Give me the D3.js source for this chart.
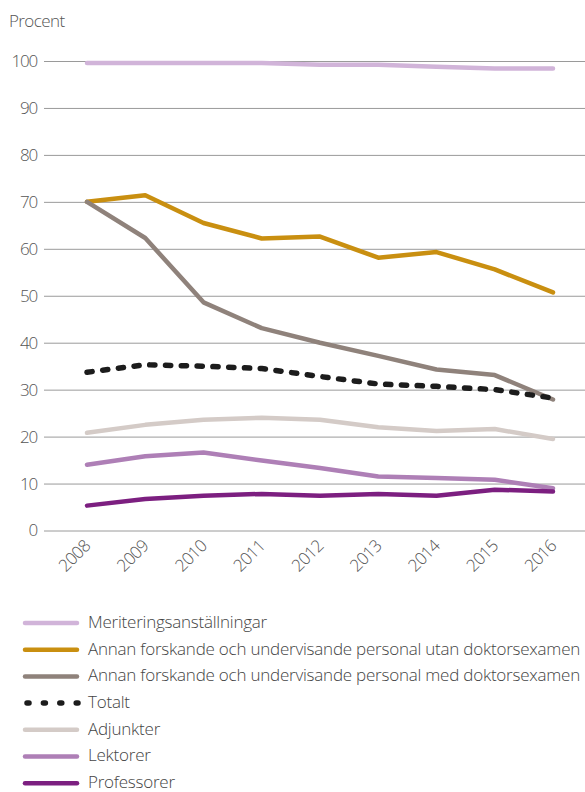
<!DOCTYPE html>
<html><head><meta charset="utf-8">
<script src="https://cdn.jsdelivr.net/npm/d3@7"></script>
<style>
html,body{margin:0;padding:0;background:#fff;}
svg{display:block;font-family:"Open Sans",Lato,sans-serif;}
</style></head>
<body><svg id="c" width="585" height="792"></svg>
<script>
const years = ["2008","2009","2010","2011","2012","2013","2014","2015","2016"];
const yTicks = [0,10,20,30,40,50,60,70,80,90,100];
const seriesNames = ["Meriteringsanställningar","Annan forskande och undervisande personal utan doktorsexamen","Annan forskande och undervisande personal med doktorsexamen","Totalt","Adjunkter","Lektorer","Professorer"];
const seriesColors = ["#d1b4d9","#c98f10","#8f827b","#1c1c1c","#d4cbc7","#ae7fb6","#7c1f80"];
const meritering = [99.6,99.6,99.6,99.6,99.2,99.2,98.8,98.4,98.4];
const utanDr = [70.0,71.4,65.5,62.2,62.6,58.1,59.3,55.6,50.7];
const medDr = [70.0,62.3,48.6,43.1,40.0,37.2,34.3,33.1,27.9];
const totalt = [33.7,35.3,35.0,34.5,32.8,31.2,30.7,30.0,28.2];
const adjunkter = [20.8,22.5,23.6,24.0,23.6,22.0,21.2,21.6,19.5];
const lektorer = [14.0,15.8,16.6,14.9,13.3,11.5,11.2,10.8,9.0];
const professorer = [5.3,6.7,7.4,7.8,7.4,7.8,7.4,8.7,8.3];
const seriesValues = [meritering,utanDr,medDr,totalt,adjunkter,lektorer,professorer];

const FONT = "'Open Sans',Lato,sans-serif";
const svg = d3.select("#c");
const x = d3.scalePoint().domain(years).range([87,553]);
const y = d3.scaleLinear().domain([0,100]).range([530.5,61]);

svg.append("text").attr("x",9).attr("y",27).attr("font-size",17).attr("fill","#555").attr("font-weight",300).attr("letter-spacing",-0.6).text("Procent");

const yAxis = svg.append("g").attr("transform","translate(585,0)")
  .call(d3.axisLeft(y).tickValues(yTicks).tickSize(541).tickPadding(7));
yAxis.select(".domain").remove();
yAxis.selectAll(".tick line").attr("stroke","#9a9a9a").attr("stroke-width",1);
yAxis.selectAll(".tick text").attr("font-size",17).attr("fill","#555").attr("font-family",FONT).attr("font-weight",300).attr("letter-spacing",-1.2);

const xAxis = svg.append("g").attr("transform","translate(0,530)")
  .call(d3.axisBottom(x).tickSize(0).tickPadding(0));
xAxis.select(".domain").remove();
xAxis.selectAll(".tick text").attr("font-size",17).attr("fill","#555").attr("font-family",FONT).attr("font-weight",300).attr("letter-spacing",-0.6)
  .attr("text-anchor","end").attr("dy",0).attr("transform","translate(4,17) rotate(-45)");

const DASH = "5.2,10.6";
const line = d3.line().x((d,i)=>x(years[i])).y(d=>y(d));
[0,1,2,3,4,5,6].forEach(k=>{
  const p = svg.append("path").attr("d",line(seriesValues[k])).attr("fill","none")
    .attr("stroke",seriesColors[k]).attr("stroke-width",4.5)
    .attr("stroke-linejoin","round").attr("stroke-linecap","round");
  if(k===3) p.attr("stroke-dasharray",DASH).attr("stroke-width",5.5);
});

const lg = svg.append("g");
const texts = [];
seriesNames.forEach((n,i)=>{
  const yy = 623 + i*26.7;
  const l = lg.append("line").attr("x1",25).attr("x2",77).attr("y1",yy).attr("y2",yy)
    .attr("stroke",seriesColors[i]).attr("stroke-width",4.5).attr("stroke-linecap","round");
  if(i===3) l.attr("x1",27).attr("x2",78).attr("stroke-dasharray","2,14.4").attr("stroke-width",5.5);
  texts.push(lg.append("text").attr("x",88).attr("y",yy+4.8).attr("font-size",17).attr("fill","#444").attr("font-weight",300).text(n));
});
const longest = texts[2];
const natural = longest.node().getComputedTextLength();
const nChars = seriesNames[2].length;
const ls = (492 - natural) / nChars;
texts.forEach(t=>t.attr("letter-spacing", ls));
</script></body></html>
